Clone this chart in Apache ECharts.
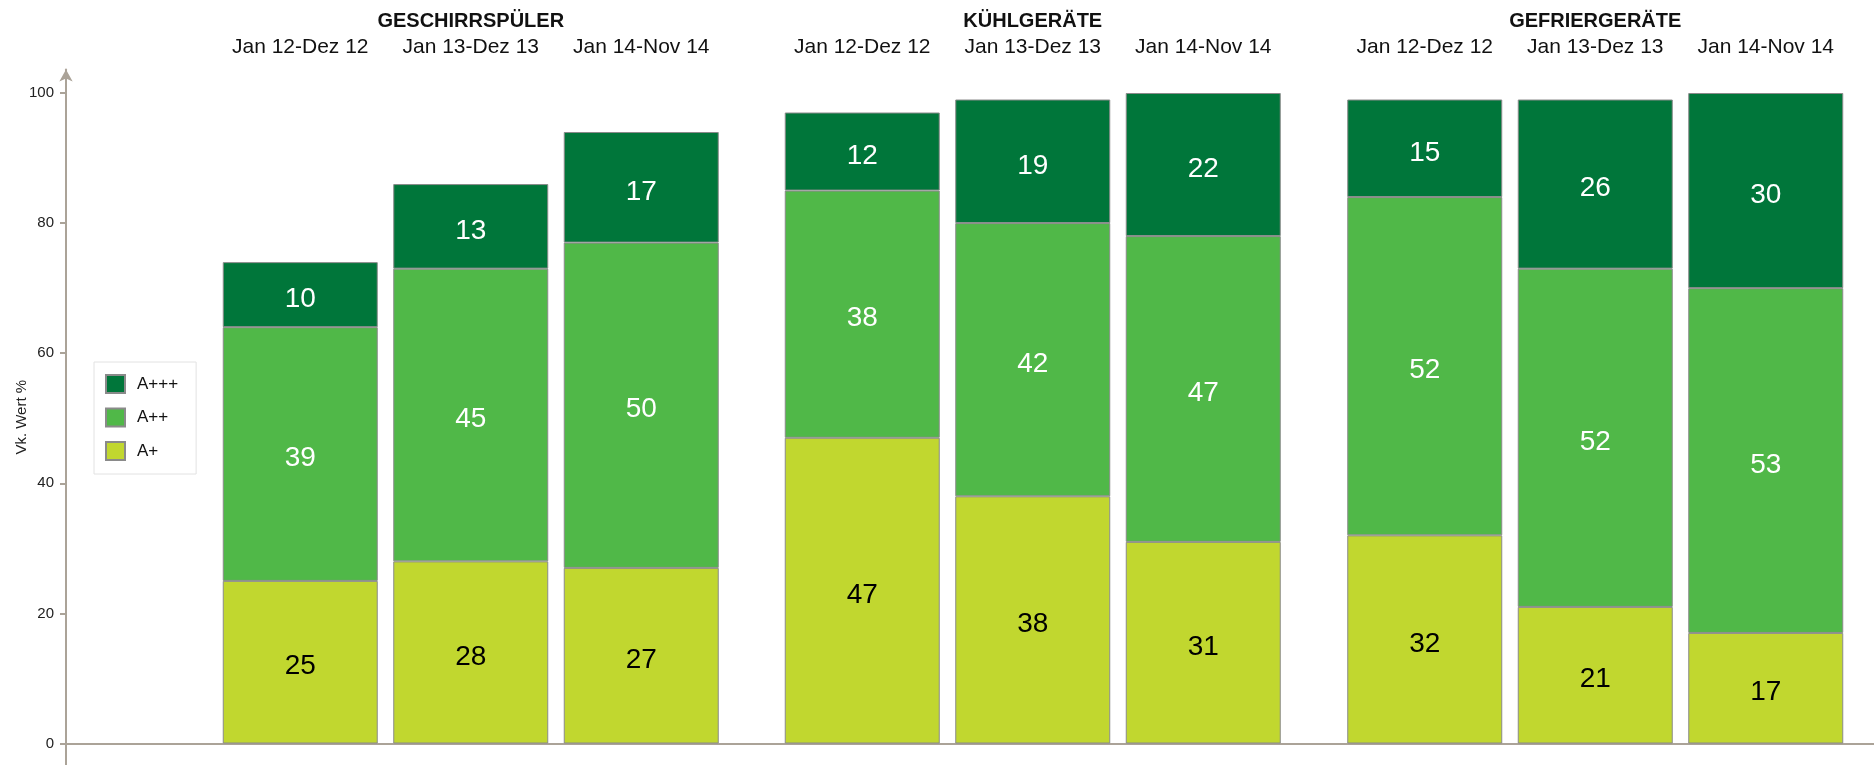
<!DOCTYPE html>
<html>
<head>
<meta charset="utf-8">
<title>Energieeffizienzklassen</title>
<script src="https://cdn.jsdelivr.net/npm/echarts@6/dist/echarts.min.js"></script>
<style>
  html, body { margin: 0; padding: 0; background: #fff; }
  #chart { width: 1874px; height: 765px; }
</style>
</head>
<body>
<div id="chart"></div>
<script>
// Produktgruppen und Zeiträume
const groups = ['GESCHIRRSPÜLER', 'KÜHLGERÄTE', 'GEFRIERGERÄTE'];
const periods = ['Jan 12-Dez 12', 'Jan 13-Dez 13', 'Jan 14-Nov 14'];

// Anteile je Effizienzklasse (Vk. Wert %), je drei Zeiträume pro Produktgruppe
const aPlus         = [25, 28, 27, 47, 38, 31, 32, 21, 17];
const aPlusPlus     = [39, 45, 50, 38, 42, 47, 52, 52, 53];
const aPlusPlusPlus = [10, 13, 17, 12, 19, 22, 15, 26, 30];

// Achsenbeschriftung
const yTicks = [0, 20, 40, 60, 80, 100];

const FONT = 'Liberation Sans, Arial, Helvetica, sans-serif';
const AXIS_COLOR = '#ABA398';
const COLORS = { 'A+++': '#00763A', 'A++': '#50B848', 'A+': '#C1D72F' };

// Pixel-Layout
const ZERO_Y = 743.5;      // y-Position des Nullwerts
const TOP_Y = 93;          // y-Position von 100
const PX_PER_UNIT = (ZERO_Y - TOP_Y) / 100;
const ARROW_END = 69.5;
const CHART_H = 765;
const groupLeft = [215, 777, 1339.5];
const groupWidth = 511.5;

const chart = echarts.init(document.getElementById('chart'), null, { renderer: 'canvas' });

const grids = [
  // Achsenrahmen mit Pfeil
  { left: 66, right: 0, top: ARROW_END, bottom: 0 }
];
groupLeft.forEach(l => grids.push({ left: l, width: groupWidth, top: TOP_Y, bottom: CHART_H - ZERO_Y }));

const xAxes = [{
  gridIndex: 0, type: 'value', min: 0, max: 1,
  axisLine: { show: true, onZero: true, lineStyle: { color: AXIS_COLOR, width: 2 } },
  axisTick: { show: false }, axisLabel: { show: false }, splitLine: { show: false }
}];
const yAxes = [{
  gridIndex: 0, type: 'value',
  min: -(CHART_H - ZERO_Y) / PX_PER_UNIT,
  max: (ZERO_Y - ARROW_END) / PX_PER_UNIT,
  name: 'Vk. Wert %', nameLocation: 'middle', nameGap: 37, nameMoveOverlap: false,
  nameTextStyle: { fontFamily: FONT, fontSize: 15, color: '#222' },
  axisLine: { show: true, onZero: true, symbol: ['none', 'arrow'], symbolSize: [10, 12],
    lineStyle: { color: AXIS_COLOR, width: 2 } },
  axisTick: { show: true, length: 6, customValues: yTicks, lineStyle: { color: AXIS_COLOR, width: 2 } },
  axisLabel: { show: true, customValues: yTicks, margin: 12, fontFamily: FONT, fontSize: 15, color: '#222' },
  splitLine: { show: false }
}];

const series = [];
groups.forEach((g, i) => {
  const gi = i + 1;
  xAxes.push({
    gridIndex: gi, type: 'category', position: 'top', data: periods,
    name: g, nameLocation: 'middle', nameGap: 60.5,
    nameTextStyle: { fontFamily: FONT, fontSize: 20, fontWeight: 'bold', color: '#111' },
    axisLine: { show: false }, axisTick: { show: false },
    axisLabel: { interval: 0, margin: 35.5, fontFamily: FONT, fontSize: 21, color: '#111' }
  });
  yAxes.push({ gridIndex: gi, type: 'value', min: 0, max: 100, show: false, splitLine: { show: false } });

  const slice = arr => arr.slice(i * 3, i * 3 + 3);
  [['A+', aPlus, '#000'], ['A++', aPlusPlus, '#fff'], ['A+++', aPlusPlusPlus, '#fff']].forEach(([name, arr, lc]) => {
    series.push({
      name, type: 'bar', stack: 'g' + gi, xAxisIndex: gi, yAxisIndex: gi,
      barWidth: 155, data: slice(arr),
      itemStyle: { color: COLORS[name], borderColor: '#8a8a8a', borderWidth: 1 },
      label: { show: true, position: 'inside', offset: [0, 4.5], fontFamily: FONT, fontSize: 28, color: lc },
      emphasis: { disabled: true }
    });
  });
});

chart.setOption({
  animation: false,
  backgroundColor: '#fff',
  textStyle: { fontFamily: FONT },
  grid: grids,
  xAxis: xAxes,
  yAxis: yAxes,
  legend: {
    data: ['A+++', 'A++', 'A+'],
    icon: 'rect',
    orient: 'vertical', left: 94, top: 362,
    padding: [12, 18, 13, 11],
    itemWidth: 19, itemHeight: 18, itemGap: 13.5,
    backgroundColor: '#fff', borderColor: '#e2e2e2', borderWidth: 1,
    textStyle: { fontFamily: FONT, fontSize: 17, color: '#111', padding: [0, 0, 0, 7] },
    selectedMode: false
  },
  series
});
</script>
</body>
</html>
